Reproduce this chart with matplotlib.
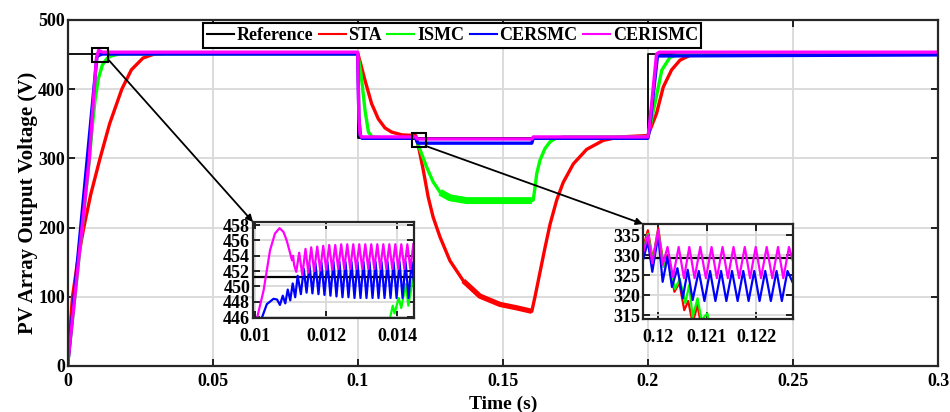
import matplotlib
matplotlib.use('Agg')
import matplotlib.pyplot as plt
from matplotlib.patches import Rectangle

plt.rcParams['font.family'] = 'Liberation Serif'
plt.rcParams['font.weight'] = 'bold'
plt.rcParams['axes.labelweight'] = 'bold'
plt.rcParams['font.size'] = 13

LABELS = ['Reference', 'STA', 'ISMC', 'CERSMC', 'CERISMC']
COLORS = ['black', '#ff0000', '#00ff00', '#0000ff', '#ff00ff']

# ---- main traces ----
ref_t = [0, 0.1, 0.1, 0.2, 0.2, 0.3]
ref_v = [451, 451, 329, 329, 451, 451]

sta_t = [0, 0.0017, 0.0035, 0.0056, 0.008, 0.0112, 0.0145, 0.0187, 0.022, 0.026, 0.03, 0.035,
         0.1, 0.1008, 0.1025, 0.1048, 0.1071, 0.1094, 0.1117, 0.1152, 0.12,
         0.1209, 0.1226, 0.1243, 0.126, 0.1284, 0.1318, 0.1364, 0.1421, 0.149, 0.1548, 0.16,
         0.1612, 0.1628, 0.1645, 0.1663, 0.1686, 0.1708, 0.1743, 0.1789, 0.1846, 0.1904, 0.2,
         0.203, 0.2053, 0.2082, 0.2111, 0.2145, 0.22, 0.3]
sta_v = [0, 100, 152, 200, 248, 300, 350, 400, 428, 445, 451, 452,
         452, 440, 413, 379, 357, 344, 338, 334, 333,
         318, 283, 244, 215, 186, 152, 123, 101, 89, 84, 79,
         102, 135, 170, 205, 240, 265, 292, 313, 326, 331, 333,
         365, 403, 428, 442, 449, 452, 452]
# part of the STA trace where the ripple makes it a wide band
sta_band_t = [0.1364, 0.1421, 0.149, 0.1548, 0.16]
sta_band_v = [123, 101, 89, 84, 79]

ismc_t = [0, 0.0075, 0.0085, 0.0095, 0.0106, 0.012, 0.0135, 0.015, 0.018,
          0.1, 0.1012, 0.1025, 0.1037, 0.105, 0.108, 0.12,
          0.1209, 0.1238, 0.126, 0.1284, 0.1318, 0.1376, 0.16,
          0.1605, 0.1611, 0.1617, 0.1628, 0.1645, 0.1663, 0.168, 0.171, 0.2,
          0.2024, 0.2048, 0.2076, 0.2111, 0.215, 0.3]
ismc_v = [0, 298, 345, 385, 415, 435, 444, 448, 451,
          451, 420, 370, 338, 331, 330, 330,
          319, 287, 266, 251, 243, 239, 239,
          240, 258, 278, 297, 314, 324, 328.5, 331, 331,
          379, 427.5, 446, 451, 452, 452]
ismc_band_t = [0.1284, 0.1318, 0.1376, 0.16]
ismc_band_v = [251, 243, 239, 239]

cersmc_t = [0, 0.0101, 0.0105, 0.012, 0.1, 0.1004, 0.1009, 0.1015, 0.12, 0.1207,
            0.16, 0.1605, 0.2, 0.2005, 0.2033, 0.3]
cersmc_v = [0, 446, 448.5, 450.8, 450.8, 360, 333, 329, 329, 322,
            322, 329, 329, 340, 448, 449.5]

cerismc_t = [0, 0.0075, 0.0097, 0.01, 0.0107, 0.012, 0.1, 0.1004, 0.1008, 0.1013, 0.12, 0.1205,
             0.16, 0.1605, 0.2, 0.2005, 0.203, 0.204, 0.3]
cerismc_v = [0, 300, 430, 446, 456, 453.5, 453.5, 360, 335, 331, 331, 328,
             328, 331, 331, 345, 451, 453.5, 453.5]

# ---- zoom 1 (start-up ripple) ----
z1_ref_t = [0.0099, 0.0145]
z1_ref_v = [451.2, 451.2]
z1_ismc_t = [0.0138, 0.01388, 0.01393, 0.01405, 0.01412, 0.01425, 0.01432, 0.01445, 0.0145]
z1_ismc_v = [445.8, 447.5, 446.5, 448.5, 447.2, 450.3, 447.5, 451.0, 449.5]
z1_cersmc_t = [0.01008, 0.01033, 0.01052, 0.01062, 0.0107, 0.01078, 0.01085, 0.01092, 0.01099,
               0.01106, 0.01113, 0.0112, 0.01129,
               0.011371, 0.011451, 0.011531, 0.011616, 0.011701, 0.011786, 0.01187, 0.011955,
               0.012039, 0.012124, 0.012209, 0.012294, 0.012378, 0.012463, 0.012548, 0.012632,
               0.012717, 0.012802, 0.012886, 0.012971, 0.013056, 0.01314, 0.013225, 0.01331,
               0.013395, 0.013479, 0.013564, 0.013649, 0.013734, 0.013818, 0.013903, 0.013988,
               0.014072, 0.014157, 0.014242, 0.014326, 0.014411, 0.01448]
z1_cersmc_v = [444.5, 447.7, 448.4, 448.3, 447.6, 448.8, 447.8, 449.6, 448.2,
               450.4, 448.6, 451.4, 449.0,
               452.3, 449.2, 452.8, 449.1, 453.0, 449.0, 453.1, 448.9,
               453.2, 448.8, 453.2, 448.7, 453.2, 448.6, 453.2, 448.6,
               453.2, 448.5, 453.2, 448.5, 453.2, 448.5, 453.2, 448.5,
               453.2, 448.5, 453.2, 448.5, 453.2, 448.5, 453.2, 448.5,
               453.2, 448.5, 453.2, 448.5, 453.2, 450.5]
z1_cerismc_t = [0.00995, 0.01005, 0.01024, 0.01042, 0.01056, 0.01069, 0.0108, 0.01089, 0.01099,
                0.01104, 0.01107, 0.0111, 0.01116,
                0.011242, 0.011332, 0.011421, 0.011501, 0.011581, 0.011666, 0.011751, 0.011836,
                0.01192, 0.012005, 0.012089, 0.012174, 0.012259, 0.012344, 0.012428, 0.012513,
                0.012598, 0.012682, 0.012767, 0.012852, 0.012936, 0.013021, 0.013106, 0.013191,
                0.013275, 0.01336, 0.013445, 0.013529, 0.013614, 0.013699, 0.013784, 0.013868,
                0.013953, 0.014038, 0.014122, 0.014207, 0.014292, 0.014376, 0.014461]
z1_cerismc_v = [443.0, 445.8, 449.5, 454.7, 456.9, 457.6, 457.1, 456.0, 454.3,
                453.4, 454.0, 452.8, 451.9,
                454.4, 451.5, 454.9, 451.8, 455.1, 452.0, 455.2, 452.1,
                455.3, 452.2, 455.4, 452.2, 455.4, 452.3, 455.5, 452.3,
                455.5, 452.3, 455.5, 452.3, 455.5, 452.3, 455.5, 452.3,
                455.5, 452.3, 455.5, 452.3, 455.5, 452.3, 455.5, 452.3,
                455.5, 452.3, 455.5, 452.3, 455.5, 452.3, 455.5]

# ---- zoom 2 (after 0.12 s) ----
z2_ref_t = [0.1196, 0.1228]
z2_ref_v = [329.2, 329.2]
z2_sta_t = [0.1197, 0.1198, 0.1199, 0.12001, 0.12012, 0.1202, 0.12034, 0.12044, 0.12054,
            0.12062, 0.12071, 0.12081, 0.1209]
z2_sta_v = [331.7, 336.2, 328.8, 336.7, 327.5, 330, 320.8, 323, 316.2,
            318.5, 313, 317.5, 311]
z2_ismc_t = [0.1197, 0.1198, 0.1199, 0.12001, 0.12012, 0.1202, 0.12035, 0.12045, 0.12056,
             0.12064, 0.12071, 0.12081, 0.12089, 0.12101, 0.12106]
z2_ismc_v = [331, 335.3, 328.5, 336, 327, 329.5, 321.5, 324, 318,
             322.5, 314.5, 319.2, 313.8, 315.4, 312]
z2_cersmc_t = [0.1197, 0.1198, 0.11989, 0.12001, 0.1201, 0.1202, 0.12029, 0.1204, 0.12051,
               0.12061, 0.12071, 0.120835, 0.12095, 0.121065, 0.121173, 0.121288, 0.121396,
               0.121511, 0.121625, 0.12174, 0.121848, 0.121963, 0.122071, 0.122186, 0.1223,
               0.122416, 0.122524, 0.122639, 0.12275]
z2_cersmc_v = [328.75, 333.3, 325.8, 335, 323.3, 329.6, 322, 326.7, 319.2,
               326.3, 318.75, 326, 318.5, 326, 318.5, 326, 318.5,
               326, 318.5, 326, 318.5, 326, 318.5, 326, 318.5,
               326, 318.5, 326, 323]
z2_cerismc_t = [0.1197, 0.1198, 0.11989, 0.12001, 0.1201, 0.1202, 0.120311, 0.120426, 0.120534,
                0.120642, 0.12075, 0.120865, 0.12098, 0.121095, 0.121203, 0.121318, 0.121426,
                0.121541, 0.121655, 0.12177, 0.121878, 0.121993, 0.122101, 0.122216, 0.12233,
                0.122446, 0.122554, 0.122669, 0.12275]
z2_cerismc_v = [330.4, 335, 327.9, 336.2, 327.5, 332, 324.5, 332, 324.2,
                332, 324.2, 332, 324.2, 332, 324.2, 332, 324.2,
                332, 324.2, 332, 324.2, 332, 324.2, 332, 324.2,
                332, 324.2, 332, 328.5]


def style(ax, xpad=3):
    ax.tick_params(direction='in', top=True, right=True, length=5, width=1.2,
                   labelsize=13)
    ax.tick_params(axis='x', pad=xpad)
    ax.tick_params(axis='y', pad=2)
    ax.grid(True, color='#d9d9d9', lw=1.3)
    ax.set_axisbelow(True)
    for s in ax.spines.values():
        s.set_linewidth(1.6)
        s.set_color('#262626')


fig = plt.figure(figsize=(9.5, 4.12), dpi=100)
ax = fig.add_axes([0.0711, 0.1117, 0.9163, 0.8398])

main = [(ref_t, ref_v), (sta_t, sta_v), (ismc_t, ismc_v), (cersmc_t, cersmc_v), (cerismc_t, cerismc_v)]
for (t, v), c, lab in zip(main, COLORS, LABELS):
    ax.plot(t, v, color=c, lw=1.3 if c == 'black' else 2.4, label=lab)
ax.plot(sta_band_t, sta_band_v, color=COLORS[1], lw=3.8, solid_capstyle='butt')
ax.plot(ismc_band_t, ismc_band_v, color=COLORS[2], lw=5, solid_capstyle='butt')

ax.set_xlim(0, 0.3)
ax.set_ylim(0, 500)
ax.set_xticks([0, 0.05, 0.1, 0.15, 0.2, 0.25, 0.3])
ax.set_xticklabels(['0', '0.05', '0.1', '0.15', '0.2', '0.25', '0.3'])
ax.set_yticks([0, 100, 200, 300, 400, 500])
style(ax, xpad=5)
ax.set_xlabel('Time (s)', fontsize=14, labelpad=4)
ax.set_ylabel('PV Array Output Voltage (V)', fontsize=15, labelpad=2)
ax.yaxis.set_label_coords(-0.034, 0.471)

leg = ax.legend(ncol=5, loc='upper left', bbox_to_anchor=(0.1557, 0.99), borderaxespad=0,
                fontsize=13, handlelength=1.5, handletextpad=0.15, columnspacing=0.3,
                fancybox=False, framealpha=1, edgecolor='black', borderpad=0.2)
leg.get_frame().set_linewidth(1.5)
for h in leg.get_lines():
    h.set_linewidth(1.5)

# zoom boxes on the main axes
ax.add_patch(Rectangle((0.0085, 440), 0.0055, 19, fill=False, ec='black', lw=1.5, zorder=5))
ax.add_patch(Rectangle((0.1186, 317), 0.0048, 20, fill=False, ec='black', lw=1.5, zorder=5))

# inset 1
ins1 = fig.add_axes([0.2663, 0.2282, 0.1695, 0.233])
z1 = [(z1_ref_t, z1_ref_v), (z1_ismc_t, z1_ismc_v), (z1_cersmc_t, z1_cersmc_v),
      (z1_cerismc_t, z1_cerismc_v)]
for (t, v), c in zip(z1, ['black', '#00ff00', '#0000ff', '#ff00ff']):
    ins1.plot(t, v, color=c, lw=1.6)
ins1.set_xlim(0.00994, 0.01448)
ins1.set_ylim(445.9, 458.4)
ins1.set_xticks([0.01, 0.012, 0.014])
ins1.set_xticklabels(['0.01', '0.012', '0.014'])
ins1.set_yticks([446, 448, 450, 452, 454, 456, 458])
style(ins1, xpad=7)

# inset 2
ins2 = fig.add_axes([0.6768, 0.2257, 0.1579, 0.2306])
z2 = [(z2_ref_t, z2_ref_v), (z2_sta_t, z2_sta_v), (z2_ismc_t, z2_ismc_v),
      (z2_cersmc_t, z2_cersmc_v), (z2_cerismc_t, z2_cerismc_v)]
for (t, v), c in zip(z2, COLORS):
    ins2.plot(t, v, color=c, lw=1.6)
ins2.set_xlim(0.1197, 0.12275)
ins2.set_ylim(314, 337.75)
ins2.set_xticks([0.12, 0.121, 0.122])
ins2.set_xticklabels(['0.12', '0.121', '0.122'])
ins2.set_yticks([315, 320, 325, 330, 335])
style(ins2, xpad=7)

# arrows from zoom boxes to insets
ax.annotate('', xy=(0, 1), xycoords=ins1.transAxes, xytext=(0.014, 443), textcoords='data',
            arrowprops=dict(arrowstyle='-|>', color='black', lw=1.3, mutation_scale=10,
                            shrinkA=0, shrinkB=0))
ax.annotate('', xy=(0, 1), xycoords=ins2.transAxes, xytext=(0.1234, 318), textcoords='data',
            arrowprops=dict(arrowstyle='-|>', color='black', lw=1.3, mutation_scale=10,
                            shrinkA=0, shrinkB=0))

fig.savefig('out.png', dpi=100)
